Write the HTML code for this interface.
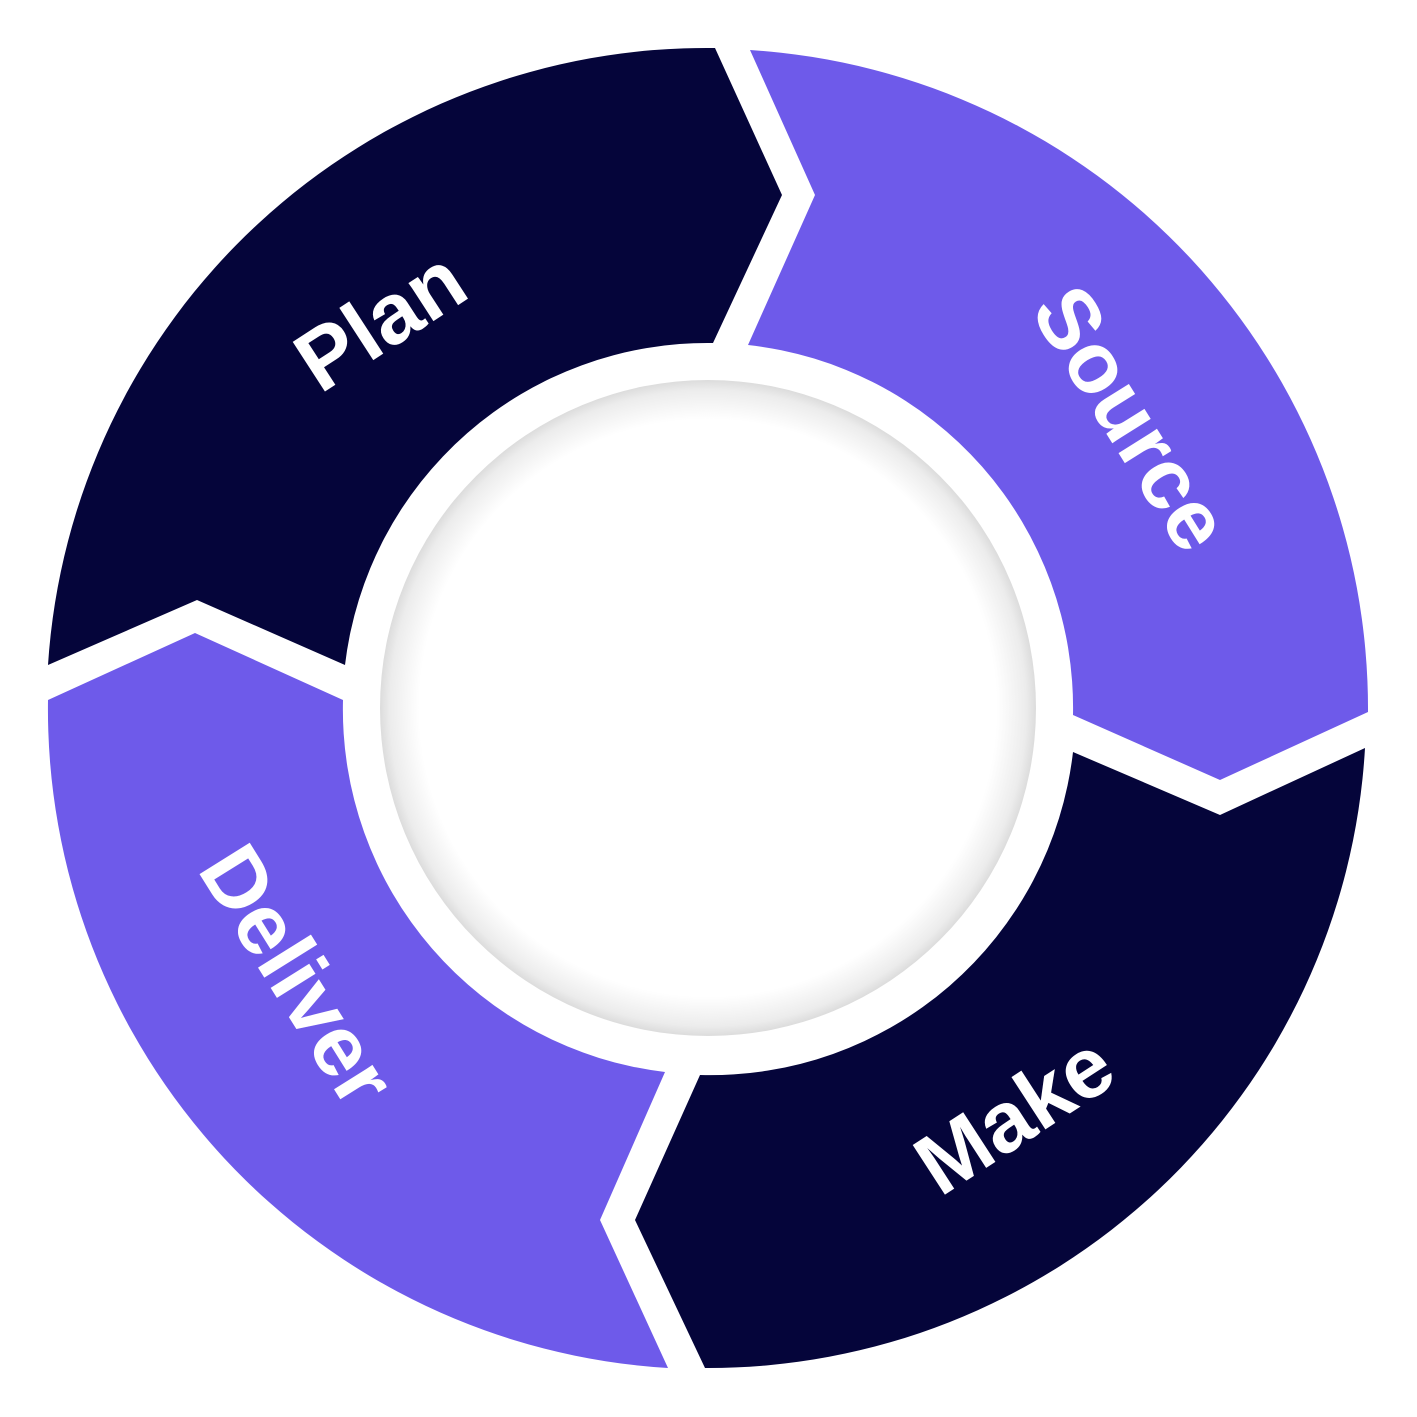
<!DOCTYPE html>
<html><head><style>html,body{margin:0;padding:0;background:#fff}svg{display:block}</style></head>
<body>
<svg width="1417" height="1417" viewBox="0 0 1417 1417" xmlns="http://www.w3.org/2000/svg">
<defs>
<radialGradient id="g" cx="708" cy="708" r="328" gradientUnits="userSpaceOnUse">
<stop offset="0.88" stop-color="#ffffff"/>
<stop offset="0.97" stop-color="#ececec"/>
<stop offset="1" stop-color="#dcdcdc"/>
</radialGradient>
</defs>
<path d="M48,665 A660,660 0 0 1 715,48 L782,195 L713,343 A365,365 0 0 0 345,665 L197,600 Z" fill="#05053a"/>
<path d="M750,50 A660,660 0 0 1 1368,712 L1220,780 L1073,715 A365,365 0 0 0 748,345 L815,195 Z" fill="#6e5aea"/>
<path d="M1365,748 A658,658 0 0 1 705,1368 L635,1220 L700,1075 A365,365 0 0 0 1073,752 L1220,815 Z" fill="#05053a"/>
<path d="M668,1368 A660,660 0 0 1 48,700 L195,633 L343,700 A365,365 0 0 0 665,1072 L600,1220 Z" fill="#6e5aea"/>
<circle cx="708" cy="708" r="328" fill="url(#g)"/>
<g font-family="Liberation Sans, Arial, sans-serif" font-weight="bold" font-size="86" fill="#fff" text-anchor="middle">
<text transform="translate(380,320) rotate(-33)" dy="30">Plan</text>
<text transform="translate(1132,418) rotate(58)" dy="30">Source</text>
<text transform="translate(1014,1114) rotate(-33)" dy="30">Make</text>
<text transform="translate(298,975) rotate(58)" dy="30">Deliver</text>
</g>
</svg>
</body></html>
